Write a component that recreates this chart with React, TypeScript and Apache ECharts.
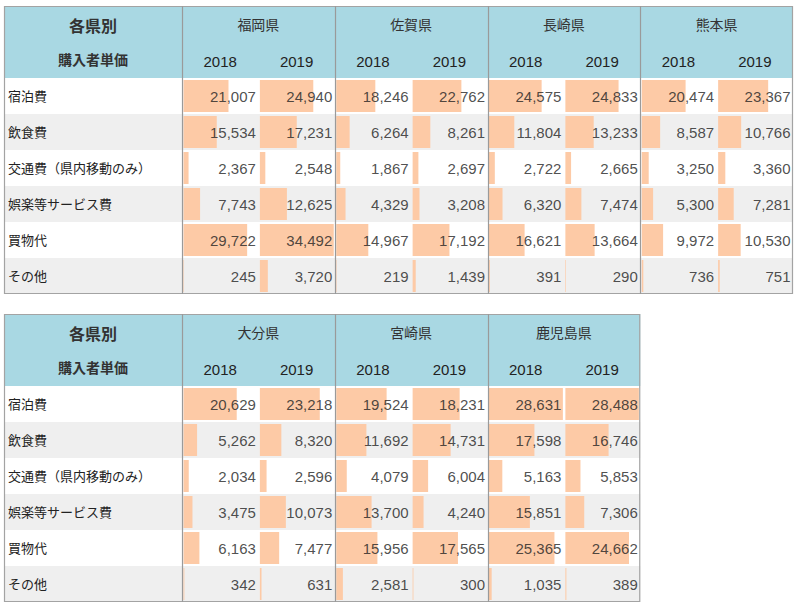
import React, { useEffect, useRef } from "react";
import * as echarts from "echarts";

const categories = ["宿泊費", "飲食費", "交通費（県内移動のみ）", "娯楽等サービス費", "買物代", "その他"];
const years = ["2018", "2019"];
const headerLabel1 = "各県別";
const headerLabel2 = "購入者単価";

const topPrefectures = ["福岡県", "佐賀県", "長崎県", "熊本県"];
const bottomPrefectures = ["大分県", "宮崎県", "鹿児島県"];

const fukuoka2018 = [21007, 15534, 2367, 7743, 29722, 245];
const fukuoka2019 = [24940, 17231, 2548, 12625, 34492, 3720];
const saga2018 = [18246, 6264, 1867, 4329, 14967, 219];
const saga2019 = [22762, 8261, 2697, 3208, 17192, 1439];
const nagasaki2018 = [24575, 11804, 2722, 6320, 16621, 391];
const nagasaki2019 = [24833, 13233, 2665, 7474, 13664, 290];
const kumamoto2018 = [20474, 8587, 3250, 5300, 9972, 736];
const kumamoto2019 = [23367, 10766, 3360, 7281, 10530, 751];
const oita2018 = [20629, 5262, 2034, 3475, 6163, 342];
const oita2019 = [23218, 8320, 2596, 10073, 7477, 631];
const miyazaki2018 = [19524, 11692, 4079, 13700, 15956, 2581];
const miyazaki2019 = [18231, 14731, 6004, 4240, 17565, 300];
const kagoshima2018 = [28631, 17598, 5163, 15851, 25365, 1035];
const kagoshima2019 = [28488, 16746, 5853, 7306, 24662, 389];

const FONT = "'Liberation Sans','Noto Sans CJK JP',sans-serif";
const LEFT = 4;
const LABEL_R = 182;
const GROUP_W = 152.75;
const ROW_H = 36;
const HEADER_H = 72;
const HEADER_BG = "#a9d8e3";
const STRIPE = "#efefef";
const BAR = "#fdcaa6";
const BORDER = "#a3a3a3";
const TEXT = "#222";

const fmt = (v: number) => v.toLocaleString("en-US");

export default function App() {
  const ref = useRef<HTMLDivElement>(null);
  useEffect(() => {
    if (!ref.current) return;
    const chart = echarts.init(ref.current, undefined, { renderer: "svg" });

    const tables = [
      { top: 6, prefs: topPrefectures, values: [[fukuoka2018, fukuoka2019], [saga2018, saga2019], [nagasaki2018, nagasaki2019], [kumamoto2018, kumamoto2019]] },
      { top: 314, prefs: bottomPrefectures, values: [[oita2018, oita2019], [miyazaki2018, miyazaki2019], [kagoshima2018, kagoshima2019]] },
    ];

    const grids: any[] = [];
    const xAxes: any[] = [];
    const yAxes: any[] = [];
    const series: any[] = [];
    const graphics: any[] = [];

    tables.forEach((t) => {
      const tableMax = Math.max(...t.values.flat(2));
      const right = LABEL_R + t.prefs.length * GROUP_W;
      const width = right - LEFT;
      const dataTop = t.top + HEADER_H;
      const height = HEADER_H + categories.length * ROW_H;

      // backgrounds
      graphics.push({ type: "rect", z: 0, silent: true, shape: { x: LEFT, y: t.top, width, height: HEADER_H }, style: { fill: HEADER_BG } });
      categories.forEach((_, i) => {
        if (i % 2 === 1) {
          graphics.push({ type: "rect", z: 0, silent: true, shape: { x: LEFT, y: dataTop + i * ROW_H, width, height: ROW_H }, style: { fill: STRIPE } });
        }
      });
      // borders
      graphics.push({ type: "rect", z: 10, silent: true, shape: { x: LEFT + 0.5, y: t.top + 0.5, width: width - 1, height: height - 1 }, style: { fill: "none", stroke: BORDER, lineWidth: 1.2 } });
      t.prefs.forEach((_, g) => {
        const x = Math.round(LABEL_R + g * GROUP_W) + 0.5;
        graphics.push({ type: "line", z: 10, silent: true, shape: { x1: x, y1: t.top, x2: x, y2: t.top + height }, style: { stroke: "#9a9a9a", lineWidth: 1.2 } });
      });
      // header texts
      graphics.push({ type: "text", z: 11, x: (LEFT + LABEL_R) / 2, y: t.top + 20, style: { text: headerLabel1, fontSize: 16, fontWeight: "bold", fontFamily: FONT, fill: "#333", align: "center", verticalAlign: "middle" } });
      graphics.push({ type: "text", z: 11, x: (LEFT + LABEL_R) / 2, y: t.top + 54, style: { text: headerLabel2, fontSize: 14, fontWeight: "bold", fontFamily: FONT, fill: "#333", align: "center", verticalAlign: "middle" } });
      t.prefs.forEach((p, g) => {
        const gl = LABEL_R + g * GROUP_W;
        graphics.push({ type: "text", z: 11, x: gl + GROUP_W / 2, y: t.top + 19, style: { text: p, fontSize: 14, fontFamily: FONT, fill: "#333", align: "center", verticalAlign: "middle" } });
        years.forEach((yr, y) => {
          graphics.push({ type: "text", z: 11, x: gl + (y + 0.5) * (GROUP_W / 2), y: t.top + 55, style: { text: yr, fontSize: 15, fontFamily: FONT, fill: TEXT, align: "center", verticalAlign: "middle" } });
        });
      });

      t.values.forEach((pair, g) => {
        pair.forEach((vals, y) => {
          const k = grids.length;
          const colW = GROUP_W / 2;
          const colL = LABEL_R + g * GROUP_W + y * colW;
          const gLeft = colL + 1.5;
          grids.push({ left: gLeft, top: dataTop, width: colW - 2.5, height: categories.length * ROW_H });
          xAxes.push({ gridIndex: k, type: "value", min: 0, max: tableMax, show: false });
          const first = g === 0 && y === 0;
          yAxes.push({
            gridIndex: k,
            type: "category",
            data: categories,
            inverse: true,
            axisLine: { show: false },
            axisTick: { show: false },
            splitLine: { show: false },
            axisLabel: first
              ? { show: true, align: "left", margin: gLeft - 8, fontSize: 13, fontFamily: FONT, color: TEXT }
              : { show: false },
          });
          series.push({
            type: "bar",
            xAxisIndex: k,
            yAxisIndex: k,
            data: vals,
            barWidth: 32,
            itemStyle: { color: BAR },
            silent: true,
            z: 2,
          });
          series.push({
            type: "scatter",
            xAxisIndex: k,
            yAxisIndex: k,
            data: vals.map((_, i) => [tableMax, i]),
            symbolSize: 1,
            itemStyle: { color: "rgba(0,0,0,0)" },
            silent: true,
            z: 5,
            label: {
              show: true,
              position: "left",
              distance: 1,
              formatter: (p: any) => fmt(vals[p.dataIndex]),
              fontSize: 15,
              fontFamily: FONT,
              color: TEXT,
            },
          });
        });
      });
    });

    chart.setOption({
      animation: false,
      backgroundColor: "#fff",
      grid: grids,
      xAxis: xAxes,
      yAxis: yAxes,
      series,
      graphic: { elements: graphics },
    });
    return () => chart.dispose();
  }, []);
  return <div ref={ref} style={{ position: "fixed", left: 0, top: 0, width: 800, height: 609 }} />;
}
